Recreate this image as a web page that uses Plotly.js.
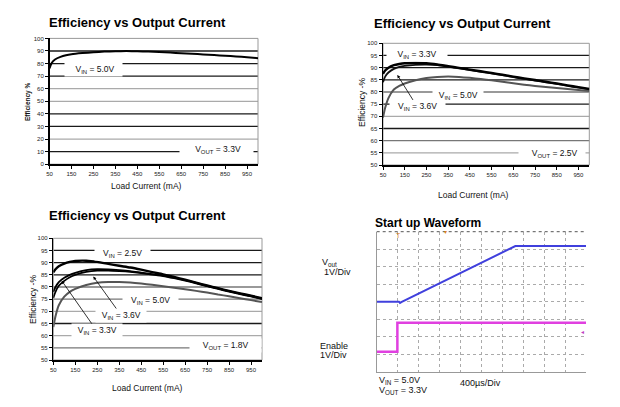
<!DOCTYPE html>
<html><head><meta charset="utf-8">
<script src="https://cdn.plot.ly/plotly-3.0.1.min.js"></script>
<style>html,body{margin:0;padding:0;background:#fff}#chart{width:620px;height:407px}</style>
</head><body><div id="chart"></div><script>
// ---------- data ----------
const loadCurrent = [50,60,75,100,125,150,200,250,300,350,400,450,500,550,600,650,700,750,800,850,900,950,1000];
const xTickVals = [50,150,250,350,450,550,650,750,850,950];
const yTicksFull = [0,10,20,30,40,50,60,70,80,90,100];
const yTicksUpper = [50,55,60,65,70,75,80,85,90,95,100];

// Panel 1: VOUT = 3.3 V
const eff3v3_vin50 = [76.2,80.5,83.2,85.3,86.6,87.4,88.3,89.0,89.5,89.8,89.9,89.8,89.5,89.1,88.7,88.2,87.8,87.3,86.8,86.2,85.7,85.1,84.3];
// Panel 2: VOUT = 2.5 V
const eff2v5_vin33 = [87.5,88.8,90.0,91.0,91.5,91.8,91.9,91.8,91.3,90.6,89.9,89.2,88.5,87.8,87.1,86.3,85.6,84.9,84.2,83.5,82.7,82.0,81.3];
const eff2v5_vin36 = [84.0,86.3,88.0,89.5,90.3,90.7,91.1,91.2,91.0,90.4,89.7,89.0,88.3,87.6,86.9,86.1,85.4,84.7,84.0,83.3,82.5,81.8,81.1];
const eff2v5_vin50 = [69.5,73.5,77.5,81.0,82.5,83.5,84.8,85.7,86.2,86.4,86.2,85.8,85.3,84.8,84.2,83.6,83.0,82.5,82.0,81.6,81.2,80.8,80.4];
// Panel 3: VOUT = 1.8 V
const eff1v8_vin25 = [86.0,87.3,88.5,89.6,90.3,90.7,90.8,90.3,89.5,88.7,88.0,87.1,86.1,85.2,84.1,83.0,81.8,80.6,79.5,78.4,77.4,76.4,75.4];
const eff1v8_vin36 = [78.0,80.0,82.0,83.8,85.0,85.8,86.9,87.3,87.2,86.9,86.5,85.9,85.3,84.7,83.8,82.8,81.7,80.5,79.4,78.3,77.3,76.3,75.2];
const eff1v8_vin33 = [75.5,78.0,80.5,82.5,84.0,85.0,86.2,86.7,86.7,86.5,86.2,85.7,85.1,84.5,83.6,82.6,81.5,80.3,79.2,78.1,77.1,76.1,75.0];
const eff1v8_vin50 = [63.5,68.0,72.5,76.0,78.0,79.2,80.8,81.7,82.0,82.0,81.8,81.4,80.9,80.3,79.7,79.1,78.4,77.7,76.9,76.2,75.4,74.6,73.8];
// Panel 4: start-up waveform (time in µs, levels in divisions)
const voutTime = [0,425,445,470,2650,4000];
const voutDiv  = [4.0,4.0,3.93,3.98,7.18,7.18];
const enableTime = [0,395,395,4000];
const enableDiv  = [1.14,1.14,2.8,2.8];
const scopeTimeTicks = [0,400,800,1200,1600,2000,2400,2800,3200,3600,4000];
const scopeDivTicks = [0,1,2,3,4,5,6,7,8];

// ---------- helpers ----------
const W = 620, H = 407;
const PX = p => p / W, PY = p => 1 - p / H;
const FONT = 'Liberation Sans, Arial, sans-serif';
const DARK = '#1a1a1a', MID = '#777', LIGHT = '#aaa';

function effX(domainPx){
  return {domain:[PX(domainPx[0]), PX(domainPx[1])], range:[50,1000], tickvals:xTickVals,
    ticks:'outside', ticklen:3, tickcolor:'#000', tickfont:{size:6, family:FONT, color:'#222'},
    showline:true, linecolor:'#000', linewidth:1.5, showgrid:false, zeroline:false, fixedrange:true};
}
function effY(domainPx, range, tickvals){
  return {domain:[PY(domainPx[1]), PY(domainPx[0])], range:range, tickvals:tickvals,
    ticks:'outside', ticklen:3, tickcolor:'#000', tickfont:{size:6, family:FONT, color:'#222'},
    showline:true, linecolor:'#000', linewidth:1.5, showgrid:false, zeroline:false, fixedrange:true};
}

const traces = [
  {x:loadCurrent, y:eff3v3_vin50, xaxis:'x', yaxis:'y', mode:'lines', line:{color:'#000', width:2, shape:'spline', smoothing:0.6}},
  {x:loadCurrent, y:eff2v5_vin50, xaxis:'x2', yaxis:'y2', mode:'lines', line:{color:'#555', width:2, shape:'spline', smoothing:0.6}},
  {x:loadCurrent, y:eff2v5_vin36, xaxis:'x2', yaxis:'y2', mode:'lines', line:{color:'#111', width:1.8, shape:'spline', smoothing:0.6}},
  {x:loadCurrent, y:eff2v5_vin33, xaxis:'x2', yaxis:'y2', mode:'lines', line:{color:'#000', width:2.4, shape:'spline', smoothing:0.6}},
  {x:loadCurrent, y:eff1v8_vin50, xaxis:'x3', yaxis:'y3', mode:'lines', line:{color:'#555', width:2, shape:'spline', smoothing:0.6}},
  {x:loadCurrent, y:eff1v8_vin33, xaxis:'x3', yaxis:'y3', mode:'lines', line:{color:'#000', width:1.8, shape:'spline', smoothing:0.6}},
  {x:loadCurrent, y:eff1v8_vin36, xaxis:'x3', yaxis:'y3', mode:'lines', line:{color:'#000', width:1.8, shape:'spline', smoothing:0.6}},
  {x:loadCurrent, y:eff1v8_vin25, xaxis:'x3', yaxis:'y3', mode:'lines', line:{color:'#000', width:2.4, shape:'spline', smoothing:0.6}},
  {x:enableTime, y:enableDiv, xaxis:'x4', yaxis:'y4', mode:'lines', line:{color:'#e040e0', width:2.5}},
  {x:voutTime, y:voutDiv, xaxis:'x4', yaxis:'y4', mode:'lines', line:{color:'#4040dd', width:2}}
];

// gridline styling per panel
const shapes = [];
function grid(xr, yr, vals, shades){
  vals.forEach((v,i)=>shapes.push({type:'line', layer:'below', xref:xr+' domain', yref:yr, x0:0, x1:1, y0:v, y1:v,
    line:{color:shades[i], width:1.3}}));
  shapes.push({type:'rect', layer:'below', xref:xr+' domain', yref:yr+' domain', x0:0, x1:1, y0:0, y1:1, line:{color:'#999', width:1}});
}
grid('x','y',[10,20,30,40,50,60,70,80,90],[DARK,LIGHT,DARK,DARK,LIGHT,LIGHT,DARK,DARK,DARK]);
grid('x2','y2',[55,60,65,70,75,80,85,90,95],[LIGHT,MID,DARK,LIGHT,DARK,MID,DARK,DARK,DARK]);
grid('x3','y3',[55,60,65,70,75,80,85,90,95],[MID,LIGHT,DARK,LIGHT,MID,MID,DARK,DARK,DARK]);
// scope top border (dotted)
shapes.push({type:'line', xref:'x4 domain', yref:'y4 domain', x0:0, x1:1, y0:1, y1:1, line:{color:'#555', width:1, dash:'dot'}});

function lab(text, px, py, opts){
  return Object.assign({text:text, xref:'paper', yref:'paper', x:PX(px), y:PY(py), showarrow:false,
    xanchor:'center', yanchor:'middle', font:{family:FONT, size:8.5, color:'#111'}}, opts||{});
}
const title = (t, px, py, size) => lab(t, px, py, {xanchor:'left', font:{family:FONT, size:size, color:'#000'}});
const white = {bgcolor:'#fff', borderpad:1};
const arrowLab = (text, xr, yr, x, y, ax, ay) => ({text:text, xref:xr, yref:yr, x:x, y:y, ax:ax, ay:ay,
    showarrow:true, arrowhead:2, arrowsize:0.8, arrowwidth:0.8, arrowcolor:'#000', bgcolor:'#fff', borderpad:1,
    font:{family:FONT, size:8.5, color:'#111'}});

const annotations = [
  title('<b>Efficiency vs Output Current</b>', 47, 22, 13),
  title('<b>Efficiency vs Output Current</b>', 372, 23.5, 13),
  title('<b>Efficiency vs Output Current</b>', 47, 216, 13),
  title('<b>Start up Waveform</b>', 373, 223, 12),
  // axis titles
  lab('<b>Efficiency %</b>', 28, 102, {textangle:-90, font:{family:FONT, size:6.5, color:'#111'}}),
  lab('Efficiency -%', 362, 103, {textangle:-90, font:{family:FONT, size:8.5, color:'#111'}}),
  lab('Efficiency -%', 33, 300, {textangle:-90, font:{family:FONT, size:8.5, color:'#111'}}),
  lab('Load Current (mA)', 146, 186),
  lab('Load Current (mA)', 473, 195),
  lab('Load Current (mA)', 147, 388),
  // panel 1 labels
  lab('&nbsp;&nbsp;&nbsp;&nbsp;V<sub>IN</sub> = 5.0V&nbsp;&nbsp;&nbsp;', 93, 70, white),
  lab('&nbsp;&nbsp;&nbsp;&nbsp;&nbsp;&nbsp;V<sub>OUT</sub> = 3.3V&nbsp;&nbsp;&nbsp;&nbsp;&nbsp;', 216, 149, white),
  // panel 2 labels
  lab('&nbsp;&nbsp;&nbsp;&nbsp;V<sub>IN</sub> = 3.3V&nbsp;&nbsp;&nbsp;&nbsp;', 417, 55, white),
  lab('&nbsp;&nbsp;V<sub>IN</sub> = 5.0V&nbsp;&nbsp;', 458, 96, white),
  arrowLab('&nbsp;&nbsp;&nbsp;V<sub>IN</sub> = 3.6V&nbsp;&nbsp;&nbsp;', 'x2', 'y2', 116, 87.0, 20, 32),
  lab('&nbsp;&nbsp;&nbsp;&nbsp;&nbsp;V<sub>OUT</sub> = 2.5V&nbsp;&nbsp;&nbsp;', 552, 153, white),
  // panel 3 labels
  lab('&nbsp;&nbsp;&nbsp;V<sub>IN</sub> = 2.5V&nbsp;&nbsp;&nbsp;', 122, 253, white),
  lab('&nbsp;&nbsp;&nbsp;V<sub>IN</sub> = 5.0V&nbsp;&nbsp;&nbsp;', 150, 300, white),
  arrowLab('&nbsp;&nbsp;V<sub>IN</sub> = 3.6V&nbsp;&nbsp;', 'x3', 'y3', 232, 84.3, 28, 39),
  arrowLab('&nbsp;&nbsp;V<sub>IN</sub> = 3.3V&nbsp;&nbsp;', 'x3', 'y3', 88, 82.6, 35, 50),
  lab('&nbsp;&nbsp;&nbsp;&nbsp;&nbsp;V<sub>OUT</sub> = 1.8V&nbsp;&nbsp;&nbsp;&nbsp;&nbsp;', 225, 345, white),
  // panel 4 labels
  lab('V<sub>out</sub>', 320, 262, {xanchor:'left', font:{family:FONT, size:9, color:'#111'}}),
  lab('1V/Div', 322, 272, {xanchor:'left', font:{family:FONT, size:9, color:'#111'}}),
  lab('Enable', 318, 346, {xanchor:'left', font:{family:FONT, size:9, color:'#111'}}),
  lab('1V/Div', 318, 355, {xanchor:'left', font:{family:FONT, size:9, color:'#111'}}),
  lab('V<sub>IN</sub> = 5.0V', 377, 380, {xanchor:'left', font:{family:FONT, size:9, color:'#111'}}),
  lab('V<sub>OUT</sub> = 3.3V', 377, 390, {xanchor:'left', font:{family:FONT, size:9, color:'#111'}}),
  lab('400µs/Div', 480, 383, {font:{family:FONT, size:9, color:'#111'}}),
  // scope markers
  lab('T', 398.5, 235.5, {font:{family:FONT, size:7, color:'#e08020'}}),
  lab('▾', 445, 232, {font:{family:FONT, size:6, color:'#e08020'}}),
  lab('◂', 582, 331.5, {font:{family:FONT, size:6, color:'#c040c0'}})
];

const layout = {
  width:W, height:H, margin:{l:0,r:0,t:0,b:0}, paper_bgcolor:'#fff', plot_bgcolor:'rgba(0,0,0,0)',
  showlegend:false, font:{family:FONT},
  xaxis: Object.assign(effX([49.5,258]), {anchor:'y'}),
  yaxis: Object.assign(effY([38.4,164.2],[0,100],yTicksFull), {anchor:'x'}),
  xaxis2: Object.assign(effX([383,589.3]), {anchor:'y2'}),
  yaxis2: Object.assign(effY([43.3,165],[50,100],yTicksUpper), {anchor:'x2'}),
  xaxis3: Object.assign(effX([53.3,262]), {anchor:'y3'}),
  yaxis3: Object.assign(effY([238.3,360],[50,100],yTicksUpper), {anchor:'x3'}),
  xaxis4: {domain:[PX(376.7),PX(586)], range:[0,4000], tickvals:scopeTimeTicks, showticklabels:false, ticks:'',
    showgrid:true, gridcolor:'#aaa', griddash:'dot', gridwidth:1, showline:true, linecolor:'#999', linewidth:1,
    zeroline:false, anchor:'y4', fixedrange:true},
  yaxis4: {domain:[PY(371.7),PY(231.7)], range:[0,8], tickvals:scopeDivTicks, showticklabels:false, ticks:'',
    showgrid:true, gridcolor:'#aaa', griddash:'dot', gridwidth:1, showline:true, linecolor:'#999', linewidth:1,
    zeroline:false, anchor:'x4', fixedrange:true},
  shapes:shapes, annotations:annotations
};

Plotly.newPlot('chart', traces, layout, {staticPlot:true, displayModeBar:false});
</script></body></html>
